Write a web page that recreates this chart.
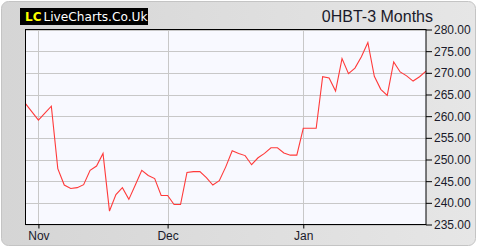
<!DOCTYPE html>
<html>
<head>
<meta charset="utf-8">
<script src="https://cdn.jsdelivr.net/npm/d3@7"></script>
<style>
  html, body { margin: 0; padding: 0; background: #ffffff; }
  svg { display: block; }
</style>
</head>
<body>
<div id="chart"></div>
<script>
// closing prices, one per trading day
let prices = [
  262.9, 261.0, 259.1, 260.7, 262.3, 247.9, 244.1, 243.3, 243.5, 244.2,
  247.5, 248.5, 251.4, 238.1, 241.9, 243.5, 240.8, 244.1, 247.5, 246.3,
  245.6, 241.7, 241.7, 239.6, 239.6, 247.0, 247.2, 247.2, 245.8, 244.1,
  245.1, 248.3, 252.0, 251.4, 250.9, 248.8, 250.4, 251.4, 252.7, 252.7,
  251.5, 251.0, 251.0, 257.2, 257.2, 257.2, 269.1, 268.8, 265.8, 273.3,
  269.8, 271.1, 273.7, 277.0, 269.2, 266.2, 264.8, 272.5, 270.2, 269.3,
  268.1, 269.1, 270.4
];
// month ticks: label and trading-day index
let monthLabels = ["Nov", "Dec", "Jan"];
let monthIndex = [2, 22, 43];
// price axis ticks
let priceTicks = [235, 240, 245, 250, 255, 260, 265, 270, 275, 280];

let attrs = {
  width: 480,
  height: 250,
  plotLeft: 25.5,
  plotRight: 426,
  plotTop: 29.5,
  plotBottom: 224.5,
  plotBg: "#f8f9ff",
  gridColor: "#c8c8c8",
  lineColor: "#ff3a3a",
  textColor: "#1a1a2a",
  font: "'Liberation Sans', Arial, sans-serif",
};

let svg = d3
  .select("#chart")
  .append("svg")
  .attr("width", attrs.width)
  .attr("height", attrs.height);

// panel background gradient
let grad = svg
  .append("defs")
  .append("linearGradient")
  .attr("id", "panel")
  .attr("x1", "0")
  .attr("y1", "0")
  .attr("x2", "1")
  .attr("y2", "0");
grad.append("stop").attr("offset", "0").attr("stop-color", "#d5d5d5");
grad.append("stop").attr("offset", "1").attr("stop-color", "#e6e6e6");

svg
  .append("rect")
  .attr("x", 1.5)
  .attr("y", 1.5)
  .attr("width", 474)
  .attr("height", 244)
  .attr("rx", 7)
  .attr("fill", "url(#panel)")
  .attr("stroke", "#c4c4c4");

// logo
svg
  .append("rect")
  .attr("x", 20)
  .attr("y", 8)
  .attr("width", 128)
  .attr("height", 17)
  .attr("fill", "#000000");

let logo = svg
  .append("text")
  .attr("x", 25)
  .attr("y", 21)
  .attr("font-family", "'DejaVu Sans', sans-serif")
  .attr("font-size", 12);
logo.append("tspan").attr("fill", "#ffff00").attr("font-weight", "bold").text("LC");
logo
  .append("tspan")
  .attr("fill", "#ffffff")
  .attr("dx", 2)
  .attr("textLength", 104)
  .attr("lengthAdjust", "spacingAndGlyphs")
  .text("LiveCharts.Co.Uk");

// title
svg
  .append("text")
  .attr("x", 433)
  .attr("y", 22)
  .attr("text-anchor", "end")
  .attr("font-family", attrs.font)
  .attr("font-size", 16)
  .attr("fill", attrs.textColor)
  .text("0HBT-3 Months");

// scales
let x = d3
  .scaleLinear()
  .domain([0, prices.length - 1])
  .range([attrs.plotLeft, attrs.plotRight]);
let y = d3
  .scaleLinear()
  .domain([235, 280])
  .range([attrs.plotBottom, attrs.plotTop]);

// plot background
svg
  .append("rect")
  .attr("x", attrs.plotLeft)
  .attr("y", attrs.plotTop)
  .attr("width", attrs.plotRight - attrs.plotLeft)
  .attr("height", attrs.plotBottom - attrs.plotTop)
  .attr("fill", attrs.plotBg);

// gridlines
svg
  .append("g")
  .selectAll("line")
  .data(priceTicks)
  .enter()
  .append("line")
  .attr("x1", attrs.plotLeft)
  .attr("x2", attrs.plotRight)
  .attr("y1", (d) => Math.round(y(d)) + 0.5)
  .attr("y2", (d) => Math.round(y(d)) + 0.5)
  .attr("stroke", attrs.gridColor);

svg
  .append("g")
  .selectAll("line")
  .data(monthIndex)
  .enter()
  .append("line")
  .attr("x1", (d) => Math.round(x(d)) + 0.5)
  .attr("x2", (d) => Math.round(x(d)) + 0.5)
  .attr("y1", attrs.plotTop)
  .attr("y2", attrs.plotBottom)
  .attr("stroke", attrs.gridColor);

// price line
let line = d3
  .line()
  .x((d, i) => x(i))
  .y((d) => y(d));

svg
  .append("path")
  .datum(prices)
  .attr("d", line)
  .attr("fill", "none")
  .attr("stroke", attrs.lineColor)
  .attr("stroke-width", 1.1)
  .attr("stroke-linejoin", "miter");

// plot border
svg
  .append("rect")
  .attr("x", attrs.plotLeft)
  .attr("y", attrs.plotTop)
  .attr("width", attrs.plotRight - attrs.plotLeft)
  .attr("height", attrs.plotBottom - attrs.plotTop)
  .attr("fill", "none")
  .attr("stroke", "#000000");

// right price axis
let yAxis = d3
  .axisRight(y)
  .tickValues(priceTicks)
  .tickSize(6)
  .tickPadding(2)
  .tickFormat(d3.format(".2f"));

let gy = svg
  .append("g")
  .attr("transform", "translate(" + attrs.plotRight + ",0)")
  .call(yAxis);
gy.select(".domain").remove();
gy.selectAll("line").attr("stroke", "#000000");
gy.selectAll("text")
  .attr("font-family", attrs.font)
  .attr("font-size", 12)
  .attr("fill", attrs.textColor);

// bottom month axis
let xAxis = d3
  .axisBottom(x)
  .tickValues(monthIndex)
  .tickSize(4)
  .tickPadding(3)
  .tickFormat((d, i) => monthLabels[i]);

let gx = svg
  .append("g")
  .attr("transform", "translate(0," + attrs.plotBottom + ")")
  .call(xAxis);
gx.select(".domain").remove();
gx.selectAll("line").attr("stroke", "#000000");
gx.selectAll("text")
  .attr("font-family", attrs.font)
  .attr("font-size", 12)
  .attr("fill", attrs.textColor);
</script>
</body>
</html>
